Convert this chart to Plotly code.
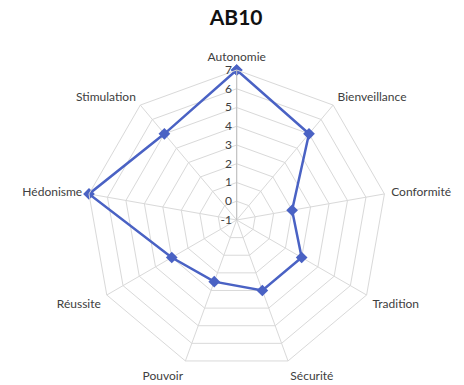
import plotly.graph_objects as go

# Value profile for respondent AB10
categories = ["Autonomie", "Bienveillance", "Conformité", "Tradition", "Sécurité",
              "Pouvoir", "Réussite", "Hédonisme", "Stimulation"]
scores = [7, 5, 2, 3, 3, 2.5, 3, 7, 5]
radial_ticks = [-1, 0, 1, 2, 3, 4, 5, 6, 7]

W, H = 464, 385
cx, cy, R = 236.7, 220, 150  # centre and outer radius in pixels
FONT = "Lato, Open Sans, Arial"
LABEL_FONT = dict(family=FONT, size=12, color="#404040")

fig = go.Figure()
fig.add_trace(go.Scatterpolar(
    r=scores + scores[:1],
    theta=categories + categories[:1],
    mode="lines+markers",
    line=dict(color="#4a62c4", width=2.5),
    marker=dict(symbol="diamond", size=9, color="#4a62c4"),
    showlegend=False,
    hoverinfo="skip",
))

fig.update_layout(
    width=W, height=H,
    margin=dict(l=0, r=0, t=0, b=0),
    paper_bgcolor="white",
    title=dict(text="<b>AB10</b>", x=0.509, xanchor="center", y=1 - 18 / H, yanchor="middle",
               font=dict(family=FONT, size=21, color="#111111")),
    polar=dict(
        domain=dict(x=[(cx - R) / W, (cx + R) / W], y=[(H - cy - R) / H, (H - cy + R) / H]),
        gridshape="linear",
        bgcolor="white",
        radialaxis=dict(
            range=[-1, 7], tickvals=radial_ticks, ticktext=[str(v) for v in radial_ticks],
            angle=90, tickangle=90, side="counterclockwise",
            showline=True, linecolor="#bfbfbf", linewidth=1,
            gridcolor="#d9d9d9", gridwidth=1,
            ticks="", tickfont=LABEL_FONT,
        ),
        angularaxis=dict(
            direction="clockwise", rotation=90,
            showline=True, linecolor="#d9d9d9", linewidth=1,
            gridcolor="#d9d9d9", gridwidth=1,
            ticks="outside", ticklen=4, tickcolor="rgba(0,0,0,0)",
            tickfont=LABEL_FONT,
        ),
    ),
)

fig.write_html("out.html")
